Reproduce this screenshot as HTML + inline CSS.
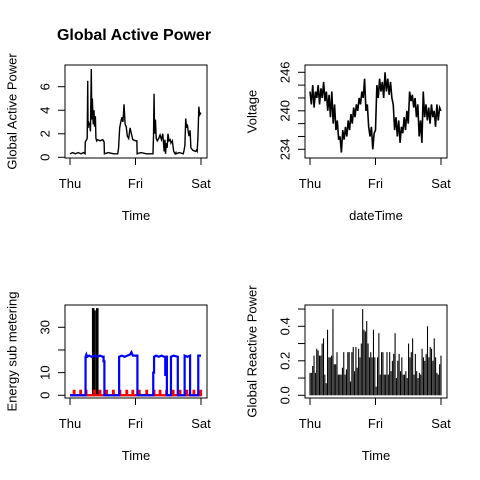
<!DOCTYPE html>
<html><head><meta charset="utf-8"><style>
html,body{margin:0;padding:0;background:#fff;}
svg{display:block;font-family:"Liberation Sans",Arial,sans-serif;}
</style></head><body>
<svg id="chart" width="480" height="480" viewBox="0 0 480 480" xmlns="http://www.w3.org/2000/svg">
<rect width="480" height="480" fill="#fff"/>
<text x="134" y="40" font-size="16" font-weight="bold" text-anchor="middle">Global Active Power</text>
</svg>
<script>
// ---------- data (hours since Thu 00:00, values) ----------
const dayLabels = ["Thu","Fri","Sat"];
const dayHours = [0,24,48];

const gapT = [0,1,2,3,4,5,5.5,5.6,6.3,6.5,6.6,6.8,7.2,7.5,7.8,8.0,8.2,8.5,8.8,9.0,9.3,9.5,9.8,10,11,12,12.5,12.6,14,16,17.5,17.8,18.2,18.6,19,19.4,19.8,20.2,20.6,21,21.5,22,23,24,24.5,24.6,26,28,30.4,30.6,30.8,31,31.3,31.6,32,32.5,33,33.5,34,34.5,34.8,35,35.3,35.6,35.9,36.3,36.7,37,37.5,38,38.5,38.8,38.9,40,41.5,41.8,42.1,42.4,42.7,43,43.3,43.6,44,44.3,45,46,46.3,46.6,46.9,47.2,47.5,48];
const gapV = [0.3,0.4,0.3,0.4,0.3,0.4,0.3,1.3,1.6,6.5,2.5,3.0,2.8,2.2,7.5,3.2,5.0,2.8,4.0,2.6,3.5,1.6,1.4,1.5,1.4,1.5,1.3,0.3,0.4,0.3,0.3,0.8,2.5,3.0,3.4,3.0,4.5,2.8,2.6,1.8,1.6,2.5,1.5,1.4,1.4,0.3,0.4,0.3,0.3,1.8,5.4,2.0,3.2,1.6,1.4,1.6,1.9,1.5,2.0,0.5,1.5,0.3,1.2,0.8,2.0,1.4,1.5,1.2,1.4,0.5,0.3,0.4,0.3,0.4,0.3,0.6,1.0,3.3,2.5,2.8,2.2,1.8,2.3,0.8,0.6,0.5,0.6,0.5,1.8,4.3,3.6,3.8];
const gapTicks = [0,2,4,6];

const voltV = [243,241,244,240.5,243,242,244,241,243.5,242,244.5,241.5,243,
240,242.5,239,243,238,241,237,238.5,235.5,236,233.5,237,
235.5,237.5,236,238.5,237,239.5,238,240.5,239,241,240,242,
241,243,242,245,240,241,
237.5,236,237.5,234,236.5,237,
244,242,245,243,244.5,242,246,243,245,242.5,244.5,242,
241,237,239,236,238.5,235,237.5,236.5,239,237,240,238,
243,241.5,242.5,240.5,242,239,241,236,238.5,235,243,239,
241,238.5,240.5,238,241,239,240,237.5,241,238.5,240.5,240];
const voltTicks = [234,236,238,240,242,244,246];
const voltLabels = ["234","","","240","","","246"];

const sub1T = [0,8.4,8.4,8.6,8.6,8.9,8.9,9.1,9.1,9.9,9.9,10.1,10.1,48];
const sub1V = [0,0,38,38,0,0,37,37,0,0,38,38,0,0];
const sub2Pulses = [1.5,3.9,5.9,9,11,13.4,15.9,18.3,20.8,23,25.4,28.1,30.8,33,35.4,37.8,40.3,42.8,45.4,47.9];
const sub2Height = 2;
const sub3T = [0,5.7,5.7,6,6.3,7,8,9,10,11,12,12.3,12.3,12.6,12.6,18,18,19,20,21,22,22.5,23,24,24.7,24.7,30.5,30.5,30.8,30.8,31.5,32.5,33.5,34.5,34.9,34.9,35.1,35.1,35.5,35.5,37,37,38,39.5,39.5,42,42,43,44,44,47,47,48];
const sub3V = [0,0,17,18,17,17.5,17,17.5,17,17.5,17,17,15,15,0,0,17,17.5,17,17.5,18,19,17.5,17.5,17.5,0,0,10,10,17,17.5,17,17.5,17,17,9,9,17,17,0,0,17,17.5,17,0,0,17.5,17,17.5,0,0,17.5,17.5];
const subTicks = [0,10,20,30];
const subLabels = ["0","10","","30"];

const reactV = [0.13,0.13,0.17,0.23,0.13,
0.27,0.26,0.23,0.23,0.3,0.33,0.12,0.07,
0.38,0.22,0.22,0.23,0.5,0.18,
0.18,0.25,0.12,0.12,0.12,0.16,0.25,0.12,0.15,
0.25,0.25,0.08,0.25,0.28,0.14,0.28,0.16,0.27,0.22,
0.3,0.5,0.38,0.37,0.43,0.3,0.22,0.25,
0.22,0.38,0.22,0.05,0.22,0.36,0.12,0.25,
0.25,0.12,0.12,0.25,0.12,0.25,0.14,0.2,
0.24,0.36,0.1,0.2,0.24,0.14,0.22,0.12,
0.12,0.14,0.1,0.3,0.22,0.25,0.33,0.12,
0.24,0.14,0.1,0.13,0.12,0.27,0.22,0.2,
0.24,0.4,0.22,0.28,0.27,0.2,0.33,0.22,
0.13,0.12,0.18,0.23];
const reactTicks = [0,0.1,0.2,0.3,0.4,0.5];
const reactLabels = ["0.0","","0.2","","0.4",""];

// ---------- drawing ----------
const svg = document.getElementById('chart');
const NS = 'http://www.w3.org/2000/svg';
function mk(tag, attrs, parent){
  const e = document.createElementNS(NS, tag);
  for (const k in attrs) e.setAttribute(k, attrs[k]);
  (parent||svg).appendChild(e);
  return e;
}
function panel(cfg){
  const g = mk('g', {});
  
  
  const xS = h => cfg.x0 + (h/48)*(cfg.x1 - cfg.x0);
  const yS = v => cfg.yb + (v - cfg.vb)*(cfg.yt - cfg.yb)/(cfg.vt - cfg.vb);
  cfg.draw(g, xS, yS);
  const box = mk('rect', {x:cfg.L, y:cfg.T, width:cfg.R-cfg.L, height:cfg.B-cfg.T, fill:'none', stroke:'#000', 'stroke-width':1}, g);
  
  
  // x axis
  const xa = mk('g', {}, g);
  
  
  mk('line', {x1:xS(0), x2:xS(48), y1:cfg.B, y2:cfg.B, stroke:'#000'}, xa);
  dayHours.forEach((h,i)=>{
    mk('line', {x1:xS(h), x2:xS(h), y1:cfg.B, y2:cfg.B+7, stroke:'#000'}, xa);
    const t = mk('text', {x:xS(h), y:cfg.B+30, 'font-size':13, 'text-anchor':'middle'}, xa);
    
    
    t.textContent = dayLabels[i];
  });
  const xt = mk('text', {x:(cfg.L+cfg.R)/2, y:cfg.B+62, 'font-size':13, 'text-anchor':'middle'}, g);
  
  
  xt.textContent = cfg.xlab;
  // y axis
  const ya = mk('g', {}, g);
  
  
  const tk = cfg.ticks;
  mk('line', {x1:cfg.L, x2:cfg.L, y1:yS(tk[0]), y2:yS(tk[tk.length-1]), stroke:'#000'}, ya);
  tk.forEach((v,i)=>{
    mk('line', {x1:cfg.L-7, x2:cfg.L, y1:yS(v), y2:yS(v), stroke:'#000'}, ya);
    const lab = cfg.labels[i];
    if (lab) {
      const y = yS(v), x = cfg.L-20;
      const t = mk('text', {x:x, y:y, 'font-size':13, 'text-anchor':'middle', 'dominant-baseline':'central', transform:`rotate(-90 ${x} ${y})`}, ya);
      
      
      t.textContent = lab;
    }
  });
  const yc = (cfg.T+cfg.B)/2, yx = cfg.L-53;
  const yt = mk('text', {x:yx, y:yc, 'font-size':13, 'text-anchor':'middle', 'dominant-baseline':'central', transform:`rotate(-90 ${yx} ${yc})`}, g);
  
  
  yt.textContent = cfg.ylab;
}
function poly(g, xs, ys, color, w, name){
  const p = mk('polyline', {points: xs.map((x,i)=>x+','+ys[i]).join(' '), fill:'none', stroke:color, 'stroke-width':w, 'stroke-linejoin':'miter'}, g);
  
  
}

panel({name:'global-active-power-panel', L:65, R:207, T:65, B:158, x0:70, x1:201,
  vb:0, yb:157.3, vt:6, yt:86.7, ticks:gapTicks, labels:gapTicks.map(String),
  xlab:'Time', ylab:'Global Active Power',
  draw:(g,xS,yS)=>poly(g, gapT.map(xS), gapV.map(yS), '#000', 1.4, 'active-power-line')});

panel({name:'voltage-panel', L:305, R:447, T:65, B:158, x0:310, x1:441,
  vb:234, yb:149.3, vt:246, yt:72.3, ticks:voltTicks, labels:voltLabels,
  xlab:'dateTime', ylab:'Voltage',
  draw:(g,xS,yS)=>poly(g, voltV.map((v,i)=>xS(i*48/(voltV.length-1))), voltV.map(yS), '#000', 1.6, 'voltage-line')});

panel({name:'energy-sub-metering-panel', L:65, R:207, T:305, B:398, x0:70, x1:201,
  vb:0, yb:395.3, vt:30, yt:327.3, ticks:subTicks, labels:subLabels,
  xlab:'Time', ylab:'Energy sub metering',
  draw:(g,xS,yS)=>{
    poly(g, sub1T.map(xS), sub1V.map(yS), '#000', 2, 'sub-metering-1-line');
    const rt=[0], rv=[0];
    sub2Pulses.forEach(h=>{ rt.push(h-0.15,h-0.15,h+0.15,h+0.15); rv.push(0,sub2Height,sub2Height,0); });
    rt.push(48); rv.push(0);
    poly(g, rt.map(xS), rv.map(yS), '#ff0000', 2, 'sub-metering-2-line');
    poly(g, sub3T.map(xS), sub3V.map(yS), '#0000ff', 2.2, 'sub-metering-3-line');
  }});

panel({name:'global-reactive-power-panel', L:305, R:447, T:305, B:398, x0:310, x1:441,
  vb:0, yb:395.3, vt:0.4, yt:326.3, ticks:reactTicks, labels:reactLabels,
  xlab:'Time', ylab:'Global Reactive Power',
  draw:(g,xS,yS)=>{
    const step = (xS(48)-xS(0))/(reactV.length-1);
    reactV.forEach((v,i)=>{
      const x = xS(i*48/(reactV.length-1));
      const r = mk('rect', {x:x-step*0.4, y:yS(v), width:step*0.8, height:yS(0)-yS(v), fill:'#000'}, g);
      
      
    });
  }});
</script>
</body></html>
